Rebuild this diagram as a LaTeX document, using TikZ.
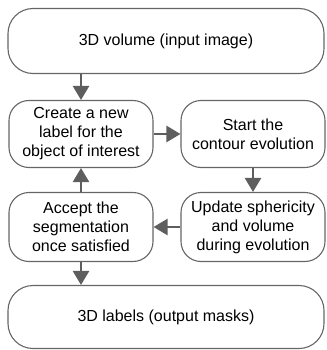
\documentclass[tikz,border=0pt]{standalone}
\usepackage{fontspec}
\setmainfont{Liberation Sans}
\usepackage{tikz}
\usetikzlibrary{arrows.meta}
\definecolor{linegray}{HTML}{666666}
\definecolor{arrowgray}{HTML}{5E5E5E}
\tikzstyle{io} = [rectangle, rounded corners=25pt, minimum width=316pt, minimum height=65pt, text centered, draw=linegray, line width=1.1pt, font=\fontsize{16pt}{19pt}\selectfont]
\tikzstyle{process} = [rectangle, rounded corners=20pt, minimum width=144pt, minimum height=67pt, align=center, draw=linegray, line width=1.1pt, font=\fontsize{16pt}{19pt}\selectfont]
\tikzstyle{arrow} = [draw=arrowgray, line width=2.4pt, -{Triangle[length=14pt,width=16pt,fill=arrowgray]}]
\begin{document}
\begin{tikzpicture}[x=1pt, y=1pt, node distance=93pt]
\useasboundingbox (0,0) rectangle (326,-350);
\node (input) [io] at (166,-41) {3D volume (input image)};
\node (newlabel) [process, below of=input, xshift=-85pt] {Create a new\\label for the\\object of interest};
\node (evolve) [process, right of=newlabel, xshift=79pt] {Start the\\contour evolution};
\node (update) [process, below of=evolve, minimum height=69pt] {Update sphericity\\and volume\\during evolution};
\node (accept) [process, below of=newlabel, minimum height=69pt] {Accept the\\segmentation\\once satisfied};
\node (output) [io, below of=accept, xshift=85pt, yshift=3pt, minimum height=63pt] {3D labels (output masks)};

\draw [arrow] (input.south -| newlabel) -- (newlabel);
\draw [arrow] (newlabel) -- (evolve);
\draw [arrow] (evolve) -- (update);
\draw [arrow] (update) -- (accept);
\draw [arrow] (accept) -- (newlabel);
\draw [arrow] (accept) -- (accept |- output.north);
\end{tikzpicture}
\end{document}
